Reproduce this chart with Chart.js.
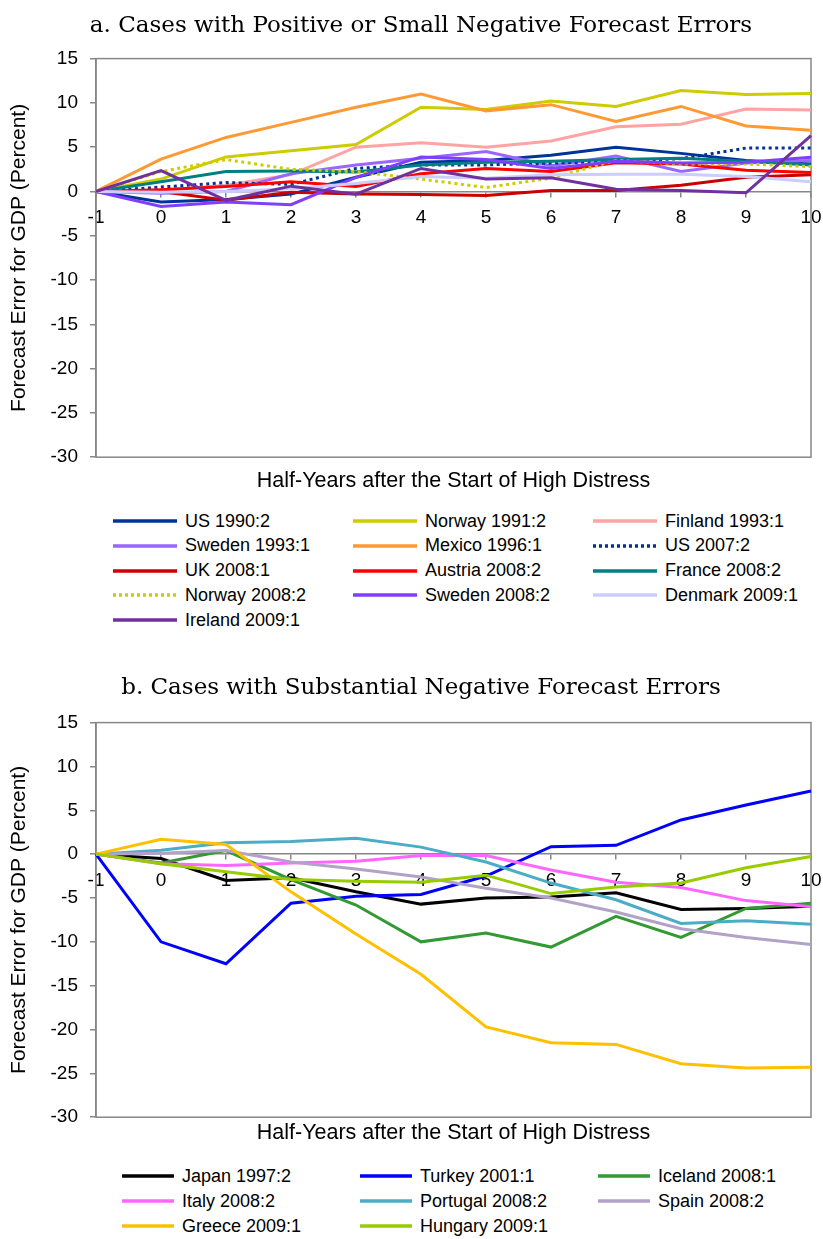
<!DOCTYPE html>
<html>
<head>
<meta charset="utf-8">
<script src="https://cdn.jsdelivr.net/npm/chart.js@4.4.0/dist/chart.umd.min.js"></script>
<style>
  body { margin: 0; background: #fff; width: 823px; height: 1239px; position: relative; overflow: hidden;
         font-family: "Liberation Sans", Arial, sans-serif; }
  .panel { position: absolute; left: 0; width: 823px; }
  .legend { position: absolute; left: 0; top: 0; width: 823px; height: 0; font-size: 18px; color: #000; }
  .item { position: absolute; display: flex; align-items: center; height: 25px; white-space: nowrap; }
  .item svg { margin-right: 8px; }
</style>
</head>
<body>
<div class="panel" style="top:0;height:500px"><canvas id="chartA"></canvas></div>
<div class="legend" id="legendA"></div>
<div class="panel" style="top:660px;height:490px"><canvas id="chartB"></canvas></div>
<div class="legend" id="legendB"></div>

<script>
// half-years after the start of high distress
const halfYears = ['-1', '0', '1', '2', '3', '4', '5', '6', '7', '8', '9', '10'];
const valueTicks = [15, 10, 5, 0, -5, -10, -15, -20, -25, -30];

// panel a
const us1990_2      = [0, -1.2, -0.9, -0.3, 1.6, 3.3, 3.5, 4.1, 5.0, 4.3, 3.5, 3.1];
const norway1991_2  = [0, 1.4, 3.9, 4.6, 5.3, 9.5, 9.25, 10.2, 9.6, 11.4, 10.95, 11.05];
const finland1993_1 = [0, 0.1, 0.7, 1.9, 5.0, 5.5, 5.0, 5.7, 7.3, 7.6, 9.3, 9.2];
const sweden1993_1  = [0, -0.2, 0.0, 2.0, 3.0, 3.75, 4.5, 2.9, 4.0, 2.25, 3.2, 3.5];
const mexico1996_1  = [0, 3.65, 6.1, 7.8, 9.5, 11.0, 9.1, 9.8, 7.9, 9.6, 7.4, 6.9];
const us2007_2      = [0, 0.5, 1.0, 0.8, 2.6, 3.0, 3.0, 3.2, 3.4, 3.7, 4.9, 4.9];
const uk2008_1      = [0, 0.0, -1.0, -0.1, -0.3, -0.35, -0.45, 0.1, 0.1, 0.7, 1.6, 1.9];
const austria2008_2 = [0, 0.2, 0.55, 1.1, 0.55, 2.0, 2.6, 2.25, 3.25, 3.1, 2.4, 2.15];
const france2008_2  = [0, 1.1, 2.25, 2.3, 2.2, 3.0, 3.3, 3.4, 3.6, 3.75, 3.4, 3.0];
const norway2008_2  = [0, 2.25, 3.6, 2.5, 2.25, 1.4, 0.45, 1.5, 3.5, 3.1, 3.1, 2.8];
const sweden2008_2  = [0, -1.7, -1.2, -1.5, 1.6, 3.9, 3.6, 2.6, 3.4, 3.2, 3.3, 3.85];
const denmark2009_1 = [0, -0.1, 0.0, 0.3, 0.9, 1.7, 1.5, 1.9, 1.95, 1.95, 1.7, 1.1];
const ireland2009_1 = [0, 2.35, -1.0, 0.6, -0.3, 2.6, 1.4, 1.55, 0.25, 0.1, -0.15, 6.3];

// panel b
const japan1997_2    = [0, -0.5, -3.0, -2.7, -4.3, -5.7, -5.0, -4.9, -4.4, -6.3, -6.2, -5.95];
const turkey2001_1   = [0, -10.0, -12.5, -5.6, -4.8, -4.6, -2.5, 0.85, 1.0, 3.9, 5.6, 7.2];
const iceland2008_1  = [0, -1.0, 0.4, -2.9, -5.8, -10.0, -9.0, -10.6, -7.1, -9.5, -6.2, -5.6];
const italy2008_2    = [0, -1.1, -1.3, -1.0, -0.8, -0.15, -0.15, -1.8, -3.2, -3.8, -5.3, -6.0];
const portugal2008_2 = [0, 0.45, 1.3, 1.45, 1.8, 0.8, -0.9, -3.3, -5.2, -7.9, -7.6, -8.0];
const spain2008_2    = [0, 0.1, 0.4, -0.9, -1.7, -2.6, -3.9, -5.0, -6.6, -8.5, -9.5, -10.3];
const greece2009_1   = [0, 1.7, 1.1, -4.3, -9.1, -13.7, -19.7, -21.5, -21.7, -23.9, -24.4, -24.3];
const hungary2009_1  = [0, -1.1, -2.0, -2.9, -3.1, -3.2, -2.4, -4.5, -3.75, -3.3, -1.55, -0.27];

const namesA = ['US 1990:2', 'Norway 1991:2', 'Finland 1993:1', 'Sweden 1993:1', 'Mexico 1996:1', 'US 2007:2',
  'UK 2008:1', 'Austria 2008:2', 'France 2008:2', 'Norway 2008:2', 'Sweden 2008:2', 'Denmark 2009:1', 'Ireland 2009:1'];
const valuesA = [us1990_2, norway1991_2, finland1993_1, sweden1993_1, mexico1996_1, us2007_2,
  uk2008_1, austria2008_2, france2008_2, norway2008_2, sweden2008_2, denmark2009_1, ireland2009_1];
const colorsA = ['#003399', '#CCCC00', '#FFA3A3', '#9966FF', '#FF9933', '#003399',
  '#CC0000', '#FF0000', '#008080', '#CCCC00', '#7F3FFF', '#CCCCFF', '#7030A0'];
const dottedA = [false, false, false, false, false, true, false, false, false, true, false, false, false];

const namesB = ['Japan 1997:2', 'Turkey 2001:1', 'Iceland 2008:1', 'Italy 2008:2', 'Portugal 2008:2',
  'Spain 2008:2', 'Greece 2009:1', 'Hungary 2009:1'];
const valuesB = [japan1997_2, turkey2001_1, iceland2008_1, italy2008_2, portugal2008_2,
  spain2008_2, greece2009_1, hungary2009_1];
const colorsB = ['#000000', '#0000FF', '#339933', '#FF66FF', '#4BACC6', '#B3A2C7', '#FFC000', '#99CC00'];
const dottedB = [false, false, false, false, false, false, false, false];

const AXIS_GREY = '#878787';
const SANS = '"Liberation Sans", Arial, sans-serif';
const PAD_LEFT = 31; // pushes the centred title a bit right, y axis box is shrunk to match

// grey box round the plot area
const framePlugin = {
  id: 'frame',
  beforeDatasetsDraw(chart) {
    const { ctx, chartArea: a } = chart;
    ctx.save();
    ctx.strokeStyle = AXIS_GREY;
    ctx.lineWidth = 1.5;
    ctx.strokeRect(a.left, a.top, a.right - a.left, a.bottom - a.top);
    ctx.restore();
  }
};

function makeDatasets(names, values, colors, dotted) {
  return names.map((name, i) => ({
    label: name,
    data: values[i],
    borderColor: colors[i],
    backgroundColor: colors[i],
    borderWidth: 3,
    borderDash: dotted[i] ? [3, 3.5] : [],
    pointRadius: 0,
    tension: 0,
    fill: false,
    order: names.length - i // later series sit on top
  }));
}

function makeChart(id, title, datasets, pad) {
  return new Chart(document.getElementById(id), {
    type: 'line',
    data: { labels: halfYears, datasets: datasets },
    options: {
      animation: false,
      responsive: true,
      maintainAspectRatio: false,
      layout: { padding: { left: PAD_LEFT, right: 12, top: 0, bottom: 0 } },
      plugins: {
        legend: { display: false },
        tooltip: { enabled: false },
        title: {
          display: true,
          text: title,
          color: '#000',
          font: { family: '"DejaVu Serif", Georgia, serif', size: 23, weight: 'normal' },
          padding: { top: pad.titleTop, bottom: pad.titleBottom }
        },
        subtitle: {
          display: true,
          position: 'bottom',
          fullSize: false,
          text: 'Half-Years after the Start of High Distress',
          color: '#000',
          font: { family: SANS, size: 21.5, weight: 'normal' },
          padding: { top: pad.subTop, bottom: pad.subBottom }
        }
      },
      scales: {
        x: {
          type: 'category',
          offset: false,
          position: { y: 0 },
          afterFit(axis) { axis.height = 0; axis.paddingLeft = 0; axis.paddingRight = 0; },
          grid: { drawOnChartArea: false, drawTicks: true, tickLength: 5, color: AXIS_GREY, lineWidth: 1.5 },
          border: { color: AXIS_GREY, width: 1.5 },
          ticks: { color: '#000', font: { family: SANS, size: 19 }, padding: 10, maxRotation: 0, autoSkip: false }
        },
        y: {
          min: Math.min(...valueTicks),
          max: Math.max(...valueTicks),
          afterFit(axis) { axis.width = 96 - PAD_LEFT; },
          afterBuildTicks(axis) { axis.ticks = valueTicks.map(v => ({ value: v })); },
          grid: { drawOnChartArea: false, drawTicks: true, tickLength: 6, color: AXIS_GREY, lineWidth: 1.5 },
          border: { color: AXIS_GREY, width: 1.5 },
          ticks: { color: '#000', font: { family: SANS, size: 19 }, padding: 12 },
          title: {
            display: true,
            text: 'Forecast Error for GDP (Percent)',
            color: '#000',
            font: { family: SANS, size: 21 },
            padding: { top: 7 - PAD_LEFT, bottom: 0 }
          }
        }
      }
    },
    plugins: [framePlugin]
  });
}

function buildLegend(elId, names, colors, dotted, x0, y0, colStep, rowStep, sampleW) {
  const el = document.getElementById(elId);
  names.forEach((name, i) => {
    const col = i % 3, row = Math.floor(i / 3);
    const item = document.createElement('div');
    item.className = 'item';
    item.style.left = (x0 + col * colStep) + 'px';
    item.style.top = (y0 + row * rowStep - 12.5) + 'px';
    const dash = dotted[i] ? ' stroke-dasharray="3 3"' : '';
    item.innerHTML = '<svg width="' + sampleW + '" height="6"><line x1="0" y1="3" x2="' + sampleW +
      '" y2="3" stroke="' + colors[i] + '" stroke-width="3.5"' + dash + '/></svg><span>' + name + '</span>';
    el.appendChild(item);
  });
}

makeChart('chartA', 'a. Cases with Positive or Small Negative Forecast Errors',
  makeDatasets(namesA, valuesA, colorsA, dottedA),
  { titleTop: 12, titleBottom: 19, subTop: 11, subBottom: 6 });
makeChart('chartB', 'b. Cases with Substantial Negative Forecast Errors',
  makeDatasets(namesB, valuesB, colorsB, dottedB),
  { titleTop: 14.5, titleBottom: 20.5, subTop: 3, subBottom: 4 });

buildLegend('legendA', namesA, colorsA, dottedA, 113, 521, 240, 24.8, 64);
buildLegend('legendB', namesB, colorsB, dottedB, 122, 1176, 238, 25, 52);
</script>
</body>
</html>
